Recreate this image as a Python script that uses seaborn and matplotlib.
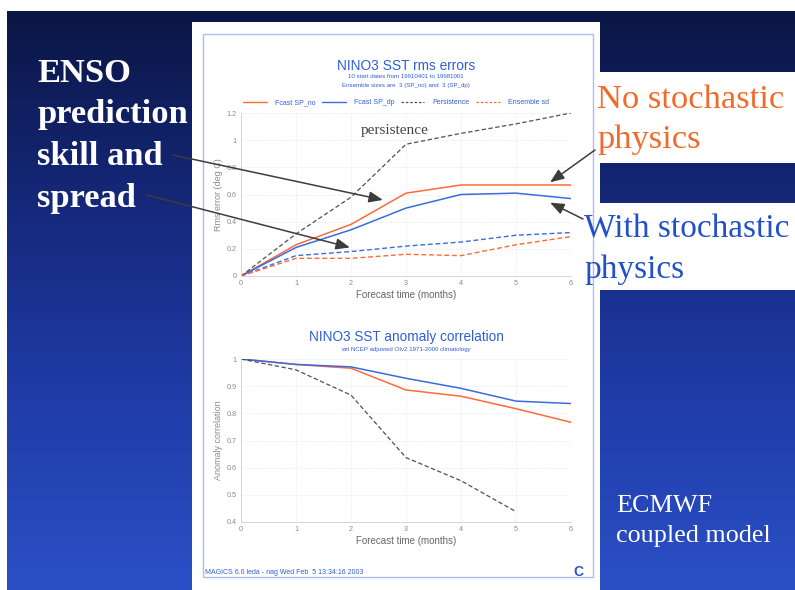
import numpy as np
import pandas as pd
import matplotlib
matplotlib.use("Agg")
import matplotlib.pyplot as plt
import seaborn as sns
from matplotlib.patches import Rectangle
from matplotlib.colors import LinearSegmentedColormap
from matplotlib.lines import Line2D

# ---------------- data ----------------
lead = [0, 1, 2, 3, 4, 5, 6]
rms_sp_no = [0.0, 0.23, 0.38, 0.61, 0.67, 0.67, 0.67]
rms_sp_dp = [0.0, 0.21, 0.34, 0.50, 0.60, 0.61, 0.57]
rms_persist = [0.0, 0.31, 0.58, 0.97, 1.05, 1.12, 1.20]
sd_sp_no = [0.0, 0.13, 0.13, 0.16, 0.15, 0.23, 0.29]
sd_sp_dp = [0.0, 0.15, 0.18, 0.22, 0.25, 0.30, 0.32]

acc_sp_no = [1.0, 0.98, 0.966, 0.886, 0.863, 0.817, 0.767]
acc_sp_dp = [1.0, 0.98, 0.971, 0.929, 0.892, 0.845, 0.836]
lead_persist_acc = [0, 1, 2, 3, 4, 5]
acc_persist = [1.0, 0.96, 0.867, 0.637, 0.552, 0.438]

rms_yticks = [0, 0.2, 0.4, 0.6, 0.8, 1.0, 1.2]
rms_yticklabels = ["0", "0.2", "0.4", "0.6", "0.8", "1", "1.2"]
acc_yticks = [0.4, 0.5, 0.6, 0.7, 0.8, 0.9, 1.0]
acc_yticklabels = ["0.4", "0.5", "0.6", "0.7", "0.8", "0.9", "1"]
legend_labels = ["Fcast SP_no", "Fcast SP_dp", "Persistence", "Ensemble sd"]

# ---------------- style ----------------
sns.set_theme(style="white")
plt.rcParams["font.family"] = ["Liberation Sans", "DejaVu Sans"]

ORANGE = "#ff6a3a"
BLUE = "#3a6ce0"
PERS = "#505050"
TITLE_BLUE = "#2f5fd6"
TICK_GRAY = "#8a8a8a"
SERIF = ["Liberation Serif", "DejaVu Serif"]

W, H = 795, 590
fig = plt.figure(figsize=(W / 100, H / 100), dpi=100)
fig.patch.set_facecolor("white")

# ---------------- slide background ----------------
bg = fig.add_axes([0, 0, 1, 1], zorder=0)
grad = np.linspace(0, 1, 256)[:, None]
cmap = LinearSegmentedColormap.from_list(
    "slide", ["#0b1644", "#15287a", "#1f3ca8", "#2b50c6"])
bg.imshow(grad, extent=(7, W, H, 11), cmap=cmap, aspect="auto",
          origin="upper", interpolation="bilinear")
bg.add_patch(Rectangle((192, 22), 408, 575, fc="white", ec="none"))
bg.add_patch(Rectangle((203, 34), 390, 543, fill=False, ec="#a9bdf0", lw=1.0))
bg.add_patch(Rectangle((600, 72), 195, 91, fc="white", ec="none"))
bg.add_patch(Rectangle((600, 203), 195, 87, fc="white", ec="none"))
bg.set_xlim(0, W)
bg.set_ylim(H, 0)
bg.axis("off")

# ---------------- chart axes ----------------
ax1 = fig.add_axes([241 / W, 1 - 276 / H, 330 / W, 163 / H], zorder=2)
ax2 = fig.add_axes([241 / W, 1 - 522 / H, 330 / W, 163 / H], zorder=2)

dash = (3.5, 2.0)
# RMS errors
sns.lineplot(x=lead, y=rms_sp_no, ax=ax1, color=ORANGE, lw=1.1)
sns.lineplot(x=lead, y=rms_sp_dp, ax=ax1, color=BLUE, lw=1.1)
sns.lineplot(x=lead, y=rms_persist, ax=ax1, color=PERS, lw=0.9)
sns.lineplot(x=lead, y=sd_sp_dp, ax=ax1, color=BLUE, lw=1.0)
sns.lineplot(x=lead, y=sd_sp_no, ax=ax1, color=ORANGE, lw=1.0)
for ln in ax1.get_lines()[2:]:
    ln.set_linestyle((0, dash))

# Anomaly correlation
sns.lineplot(x=lead, y=acc_sp_no, ax=ax2, color=ORANGE, lw=1.1)
sns.lineplot(x=lead, y=acc_sp_dp, ax=ax2, color=BLUE, lw=1.1)
sns.lineplot(x=lead_persist_acc, y=acc_persist, ax=ax2, color=PERS, lw=0.9)
ax2.get_lines()[2].set_linestyle((0, dash))

for ax, yt, ytl, ylab, ylim in [
        (ax1, rms_yticks, rms_yticklabels, "Rms error (deg C)", (0, 1.2)),
        (ax2, acc_yticks, acc_yticklabels, "Anomaly correlation", (0.4, 1.0))]:
    ax.set_facecolor("white")
    ax.set_xlim(0, 6)
    ax.set_ylim(*ylim)
    ax.set_xticks(lead)
    ax.set_xticklabels([str(v) for v in lead])
    ax.set_yticks(yt)
    ax.set_yticklabels(ytl)
    ax.tick_params(axis="both", length=0, pad=3, labelsize=5.2,
                   labelcolor=TICK_GRAY)
    ax.grid(True, color="#d8d8d8", lw=0.5, ls=(0, (1, 2)))
    for side in ["top", "right"]:
        ax.spines[side].set_visible(False)
    for side in ["left", "bottom"]:
        ax.spines[side].set_color("#cfcfcf")
        ax.spines[side].set_linewidth(0.6)
    ax.set_xlabel("Forecast time (months)", fontsize=7, color="#666666",
                  labelpad=2)
    ax.set_ylabel(ylab, fontsize=6.5, color="#8a8a8a", labelpad=3)

# legend of the RMS panel
handles = [
    Line2D([], [], color=ORANGE, lw=1.0),
    Line2D([], [], color=BLUE, lw=1.0),
    Line2D([], [], color=PERS, lw=0.9, ls=(0, (2, 1.5))),
    Line2D([], [], color=ORANGE, lw=0.9, ls=(0, (2, 1.5))),
]
ax1.legend(handles, legend_labels, ncol=4, loc="lower center",
           bbox_to_anchor=(0.47, 1.0), frameon=False, fontsize=5,
           labelcolor=TITLE_BLUE, handlelength=3.4, columnspacing=0.9,
           handletextpad=1.2, borderaxespad=0.6)

ax1.text(2.18, 1.045, "persistence", fontsize=11, color="#444444",
         family=SERIF)

# ---------------- overlay texts and arrows ----------------
ov = fig.add_axes([0, 0, 1, 1], zorder=5)
ov.set_xlim(0, W)
ov.set_ylim(H, 0)
ov.axis("off")
ov.patch.set_alpha(0)

cx = 406
ov.text(cx, 70, "NINO3 SST rms errors", ha="center", va="baseline",
        fontsize=9.9, color=TITLE_BLUE)
ov.text(cx, 77, "10 start dates from 19910401 to 19981001", ha="center",
        va="center", fontsize=4.4, color=TITLE_BLUE)
ov.text(cx, 85, "Ensemble sizes are  3 (SP_no) and  3 (SP_dp)", ha="center",
        va="center", fontsize=4.4, color=TITLE_BLUE)
ov.text(cx, 341, "NINO3 SST anomaly correlation", ha="center",
        va="baseline", fontsize=9.8, color=TITLE_BLUE)
ov.text(cx, 349, "wrt NCEP adjusted OIv2 1971-2000 climatology", ha="center",
        va="center", fontsize=4.4, color=TITLE_BLUE)
ov.text(205, 572, "MAGICS 6.6 leda - nag Wed Feb  5 13:34:16 2003",
        ha="left", va="center", fontsize=5, color=TITLE_BLUE)
ov.text(578, 572, "C", ha="center", va="center", fontsize=10,
        fontweight="bold", color="#2a55cc")

for i, word in enumerate(["ENSO", "prediction", "skill and", "spread"]):
    ov.text(37, 82 + 41.5 * i, word, ha="left", va="baseline", fontsize=24.8,
            fontweight="bold", color="white", family=SERIF)

ov.text(597, 108, "No stochastic", ha="left", va="baseline", fontsize=24.8,
        color="#f26a2a", family=SERIF)
ov.text(597, 148, "physics", ha="left", va="baseline", fontsize=24.8,
        color="#f26a2a", family=SERIF)
ov.text(584, 238, "With stochastic", ha="left", va="baseline", fontsize=24.0,
        color="#2150c8", family=SERIF)
ov.text(584, 278, "physics", ha="left", va="baseline", fontsize=24.0,
        color="#2150c8", family=SERIF)

ov.text(616, 512, "ECMWF", ha="left", va="baseline", fontsize=18.8,
        color="white", family=SERIF)
ov.text(616, 542, "coupled model", ha="left", va="baseline", fontsize=18.8,
        color="white", family=SERIF)

arrow_kw = dict(arrowstyle="-|>,head_length=0.7,head_width=0.28",
                color="#3c3c3c", lw=1.1, shrinkA=0, shrinkB=0)
arrows = [((2.58, 0.56), (173, 155)),
          ((1.98, 0.21), (147, 195)),
          ((5.62, 0.69), (595, 150)),
          ((5.62, 0.54), (583, 219))]
for tip, start in arrows:
    ov.annotate("", xy=tip, xycoords=ax1.transData, xytext=start,
                textcoords=ov.transData, arrowprops=arrow_kw,
                annotation_clip=False)

fig.savefig("out.png", dpi=100)
